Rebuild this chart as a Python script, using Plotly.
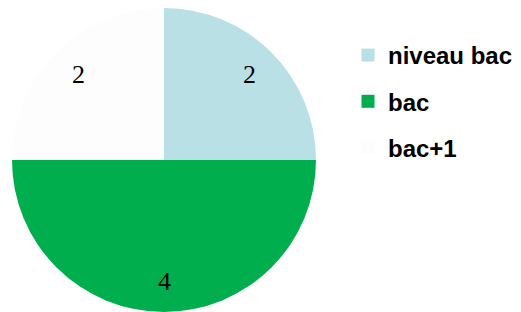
import math
import plotly.graph_objects as go

categories = ["niveau bac", "bac", "bac+1"]
values = [2, 4, 2]
colors = ["#B9E0E5", "#00AE4D", "#FDFDFD"]

W, H = 521, 312
# page body has an 8px margin; pie placed in paper pixel coordinates
px0, px1 = 4, 308
py_top, py_bot = 0, 304
dom_x = [px0 / W, px1 / W]
dom_y = [1 - py_bot / H, 1 - py_top / H]
cx, cy = (px0 + px1) / 2, (py_top + py_bot) / 2
R = (px1 - px0) / 2

fig = go.Figure()
fig.add_trace(go.Pie(
    labels=categories, values=values, sort=False, direction="clockwise", rotation=0,
    marker=dict(colors=colors, line=dict(width=0)),
    textinfo="none",
    domain=dict(x=dom_x, y=dom_y),
    showlegend=False, hoverinfo="skip",
))

total = sum(values)
cum = 0
for v in values:
    mid = (cum + v / 2) / total * 2 * math.pi
    cum += v
    x = cx + 0.8 * R * math.sin(mid)
    y = cy - 0.8 * R * math.cos(mid)
    fig.add_annotation(x=x / W, y=1 - y / H, xref="paper", yref="paper", text=str(v),
                       showarrow=False, xanchor="center", yanchor="middle",
                       font=dict(family="Liberation Serif", size=26, color="black"))

for c, col in zip(categories, colors):
    fig.add_trace(go.Scatter(
        x=[None], y=[None], mode="markers", name=c, legendgroup=c,
        marker=dict(symbol="square", size=13, color=col, line=dict(width=0)), showlegend=True,
    ))

fig.update_layout(
    width=W, height=H, margin=dict(l=0, r=0, t=0, b=0),
    paper_bgcolor="white", plot_bgcolor="white",
    xaxis=dict(visible=False), yaxis=dict(visible=False),
    legend=dict(x=340 / W, y=1 - 25 / H, xanchor="left", yanchor="top", tracegroupgap=12,
                font=dict(family="Liberation Sans", size=24, color="black", weight="bold"),
                itemwidth=30, bgcolor="rgba(0,0,0,0)"),
)
fig.write_html("out.html")
